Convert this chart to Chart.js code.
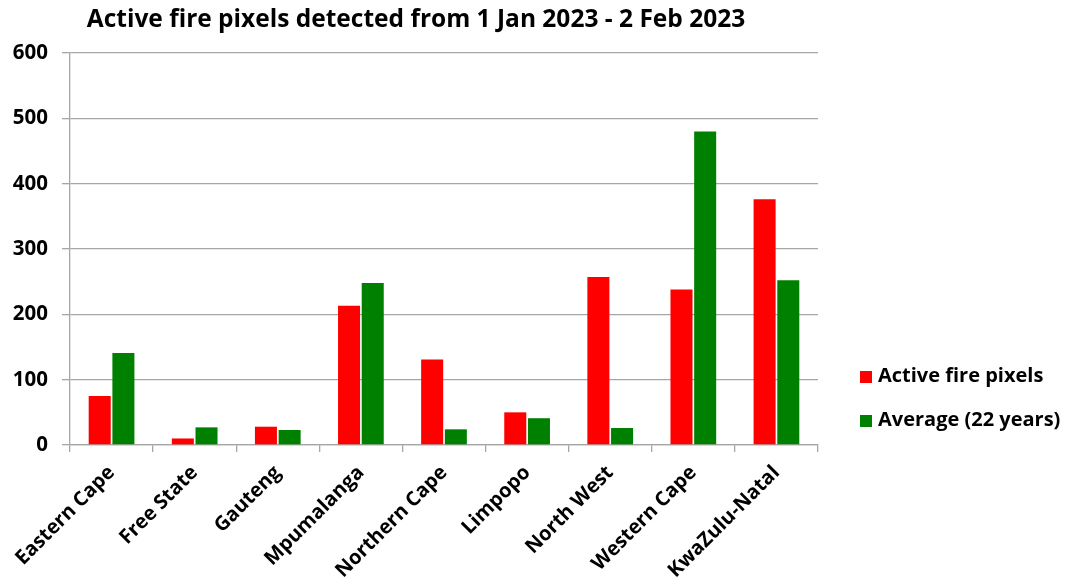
<!DOCTYPE html>
<html>
<head>
<meta charset="utf-8">
<script src="https://cdn.jsdelivr.net/npm/chart.js@4.4.0/dist/chart.umd.min.js"></script>
<style>
  html, body { margin: 0; padding: 0; background: #ffffff; }
  #wrap { width: 1080px; height: 588px; position: relative; }
</style>
</head>
<body>
<div id="wrap"><canvas id="c" width="1080" height="588"></canvas></div>
<script>
const titleText = "Active fire pixels detected from 1 Jan 2023 - 2 Feb 2023";
const categories = ["Eastern Cape", "Free State", "Gauteng", "Mpumalanga", "Northern Cape", "Limpopo", "North West", "Western Cape", "KwaZulu-Natal"];
const activeFirePixels = [75, 10, 28, 213, 131, 50, 257, 238, 376];
const average22Years = [141, 27, 23, 248, 24, 41, 26, 480, 252];
const seriesNames = ["Active fire pixels", "Average (22 years)"];
const seriesColors = ["#ff0000", "#008000"];
const yMax = 600;
const yStep = 100;

const FONT = "'Open Sans', Lato, sans-serif";

const titlePlugin = {
  id: 'customTitle',
  afterDraw(chart) {
    const ctx = chart.ctx;
    ctx.save();
    ctx.font = "bold 24.5px " + FONT;
    ctx.fillStyle = "#000000";
    ctx.textAlign = "center";
    ctx.textBaseline = "middle";
    ctx.fillText(titleText, 416, 20);
    ctx.restore();
  }
};

const legendPlugin = {
  id: 'customLegend',
  afterDraw(chart) {
    const ctx = chart.ctx;
    ctx.save();
    ctx.font = "bold 20px " + FONT;
    ctx.textAlign = "left";
    ctx.textBaseline = "middle";
    const ys = [377, 421];
    chart.data.datasets.forEach((ds, i) => {
      ctx.fillStyle = ds.backgroundColor;
      ctx.fillRect(860, ys[i] - 6, 12, 12);
      ctx.fillStyle = "#000000";
      ctx.fillText(ds.label, 878, ys[i] - 1);
    });
    ctx.restore();
  }
};

new Chart(document.getElementById('c'), {
  type: 'bar',
  data: {
    labels: categories,
    datasets: [
      { label: seriesNames[0], data: activeFirePixels, backgroundColor: seriesColors[0], borderWidth: 0 },
      { label: seriesNames[1], data: average22Years, backgroundColor: seriesColors[1], borderWidth: 0 }
    ]
  },
  options: {
    responsive: false,
    animation: false,
    devicePixelRatio: 1,
    layout: { padding: { top: 53, right: 262, left: 0, bottom: 0 } },
    datasets: { bar: { categoryPercentage: 0.57, barPercentage: 0.93 } },
    plugins: {
      legend: { display: false },
      title: { display: false },
      tooltip: { enabled: false }
    },
    scales: {
      x: {
        grid: { drawOnChartArea: false, color: "#a6a6a6", lineWidth: 1.3, tickLength: 7, offset: true },
        border: { color: "#a6a6a6", width: 1.3 },
        ticks: { color: "#000000", font: { family: FONT, size: 20, weight: 'bold' }, maxRotation: 45, minRotation: 45, padding: 9 },
        afterFit(scale) { scale.height = 143; }
      },
      y: {
        min: 0, max: yMax,
        grid: { color: "#a6a6a6", lineWidth: 1.3, tickLength: 8 },
        border: { color: "#a6a6a6", width: 1.3 },
        ticks: { stepSize: yStep, color: "#000000", font: { family: FONT, size: 20.5, weight: 'bold' }, padding: 14 },
        afterFit(scale) { scale.width = 70; }
      }
    }
  },
  plugins: [titlePlugin, legendPlugin]
});
</script>
</body>
</html>
